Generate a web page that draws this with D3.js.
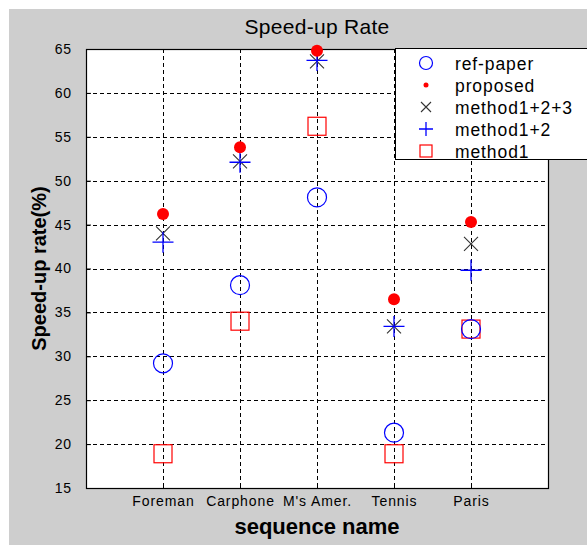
<!DOCTYPE html>
<html>
<head>
<meta charset="utf-8">
<script src="https://cdn.jsdelivr.net/npm/d3@7"></script>
<style>
  body { margin: 0; background: #fff; }
  svg { display: block; font-family: "Liberation Sans", Arial, sans-serif; }
  .grid line { stroke: #000; stroke-dasharray: 4,3; stroke-width: 1; }
  .axis text { font-size: 14px; fill: #000; letter-spacing: 0.9px; }
</style>
</head>
<body>
<div id="chart"></div>
<script>
// sequences on the x axis
var sequences = ["Foreman", "Carphone", "M's Amer.", "Tennis", "Paris"];
var yTicks = [15, 20, 25, 30, 35, 40, 45, 50, 55, 60, 65];

// speed-up rate (%) per method
var refPaper   = [29.2, 38.1, 48.1, 21.3, 33.1];
var proposed   = [46.2, 53.8, 64.8, 36.5, 45.3];
var method123  = [44.0, 52.2, 63.6, 33.4, 42.8];
var method12   = [43.0, 52.1, 63.7, 33.4, 39.8];
var method1    = [18.9, 34.0, 56.2, 18.9, 33.1];

var series = [
  {name: "ref-paper",   values: refPaper,  shape: "circle", color: "#0000ff"},
  {name: "proposed",    values: proposed,  shape: "dot",    color: "#ff0000"},
  {name: "method1+2+3", values: method123, shape: "cross",  color: "#333333"},
  {name: "method1+2",   values: method12,  shape: "plus",   color: "#0000ff"},
  {name: "method1",     values: method1,   shape: "square", color: "#ff0000"}
];

var W = 587, H = 545;
var margin = {top: 49, right: 39, bottom: 57, left: 86};
var width = W - margin.left - margin.right,
    height = H - margin.top - margin.bottom;

var svg = d3.select("#chart").append("svg")
    .attr("width", W).attr("height", H);

// grey figure background (white strip at top/left)
svg.append("rect").attr("x", 9).attr("y", 9)
    .attr("width", W - 9).attr("height", H - 9)
    .attr("fill", "#cecece");

var g = svg.append("g")
    .attr("transform", "translate(" + margin.left + "," + margin.top + ")");

var x = d3.scaleLinear().domain([0, sequences.length + 1]).range([0, width]);
var y = d3.scaleLinear().domain([15, 65]).range([height, 0]);

g.append("rect").attr("width", width).attr("height", height).attr("fill", "#fff");

// dashed grid
g.append("g").attr("class", "grid")
  .selectAll("line").data(yTicks.slice(1, -1)).enter().append("line")
    .attr("x1", 0).attr("x2", width)
    .attr("y1", function(d) { return Math.round(y(d)) + 0.5; })
    .attr("y2", function(d) { return Math.round(y(d)) + 0.5; });
g.append("g").attr("class", "grid")
  .selectAll("line").data(sequences).enter().append("line")
    .attr("y1", 0).attr("y2", height)
    .attr("x1", function(d, i) { return Math.round(x(i + 1)) + 0.5; })
    .attr("x2", function(d, i) { return Math.round(x(i + 1)) + 0.5; });

// axes
var xAxis = d3.axisBottom(x)
    .tickValues(d3.range(1, sequences.length + 1))
    .tickFormat(function(d) { return sequences[d - 1]; })
    .tickSizeInner(-5).tickSizeOuter(0).tickPadding(8);
var yAxis = d3.axisLeft(y)
    .tickValues(yTicks).tickSizeInner(-5).tickSizeOuter(0).tickPadding(14);

var gx = g.append("g").attr("class", "axis")
    .attr("transform", "translate(0," + height + ")").call(xAxis);
var gy = g.append("g").attr("class", "axis").call(yAxis);
gx.select(".domain").remove();
gy.select(".domain").remove();
g.selectAll(".axis .tick line").attr("stroke", "#000");

// plot border
g.append("rect").attr("x", 0.5).attr("y", 0.5)
    .attr("width", width).attr("height", height)
    .attr("fill", "none").attr("stroke", "#000").attr("stroke-width", 1.2);

function drawMarker(sel, shape, color, small) {
  if (shape === "circle") {
    sel.append("circle").attr("r", 9.5).attr("fill", "none")
      .attr("stroke", color).attr("stroke-width", 1.2);
  } else if (shape === "dot") {
    sel.append("circle").attr("r", small ? 2.5 : 6).attr("fill", color);
  } else if (shape === "cross") {
    sel.append("path").attr("d", "M-7,-7L7,7M-7,7L7,-7")
      .attr("stroke", color).attr("stroke-width", 1.1);
  } else if (shape === "plus") {
    sel.append("path").attr("d", "M-10.5,0L10.5,0M0,-10.5L0,10.5")
      .attr("stroke", color).attr("stroke-width", 1.3);
  } else if (shape === "square") {
    sel.append("rect").attr("x", -9).attr("y", -9).attr("width", 18).attr("height", 18)
      .attr("fill", "none").attr("stroke", color).attr("stroke-width", 1.2);
  }
}

// draw markers: squares/circles first, then crosses, dots on top
var order = [4, 0, 2, 3, 1];
order.forEach(function(k) {
  var s = series[k];
  g.append("g").selectAll("g").data(s.values).enter().append("g")
    .attr("transform", function(d, i) { return "translate(" + x(i + 1) + "," + y(d) + ")"; })
    .each(function() { drawMarker(d3.select(this), s.shape, s.color, false); });
});

// title and labels
svg.append("text").attr("x", margin.left + width / 2).attr("y", 34)
    .attr("text-anchor", "middle").style("font-size", "21px")
    .style("letter-spacing", "0.3px")
    .text("Speed-up Rate");
svg.append("text").attr("x", margin.left + width / 2).attr("y", 534)
    .attr("text-anchor", "middle").style("font-size", "22px").style("font-weight", "bold")
    .text("sequence name");
svg.append("text")
    .attr("transform", "translate(46," + (margin.top + height / 2) + ") rotate(-90)")
    .attr("text-anchor", "middle").style("font-size", "20px").style("font-weight", "bold")
    .text("Speed-up rate(%)");

// legend
var leg = svg.append("g").attr("transform", "translate(395,48)");
leg.append("rect").attr("x", 0.5).attr("y", 0.5).attr("width", 200).attr("height", 111)
    .attr("fill", "#fff").attr("stroke", "#000").attr("stroke-width", 1);
series.forEach(function(s, i) {
  var row = leg.append("g").attr("transform", "translate(0," + (15 + i * 22) + ")");
  var m = row.append("g").attr("transform", "translate(31,0)");
  if (s.shape === "circle") {
    m.append("circle").attr("r", 6.5).attr("fill", "none").attr("stroke", s.color).attr("stroke-width", 1.2);
  } else if (s.shape === "square") {
    m.append("rect").attr("x", -6).attr("y", -6).attr("width", 12).attr("height", 12)
      .attr("fill", "none").attr("stroke", s.color).attr("stroke-width", 1.2);
  } else if (s.shape === "cross") {
    m.append("path").attr("d", "M-5,-5L5,5M-5,5L5,-5").attr("stroke", s.color).attr("stroke-width", 1.1);
  } else if (s.shape === "plus") {
    m.append("path").attr("d", "M-7,0L7,0M0,-7L0,7").attr("stroke", s.color).attr("stroke-width", 1.3);
  } else {
    drawMarker(m, s.shape, s.color, true);
  }
  row.append("text").attr("x", 60).attr("y", 6.5).style("font-size", "17.5px")
    .style("letter-spacing", "0.9px").text(s.name);
});
</script>
</body>
</html>
